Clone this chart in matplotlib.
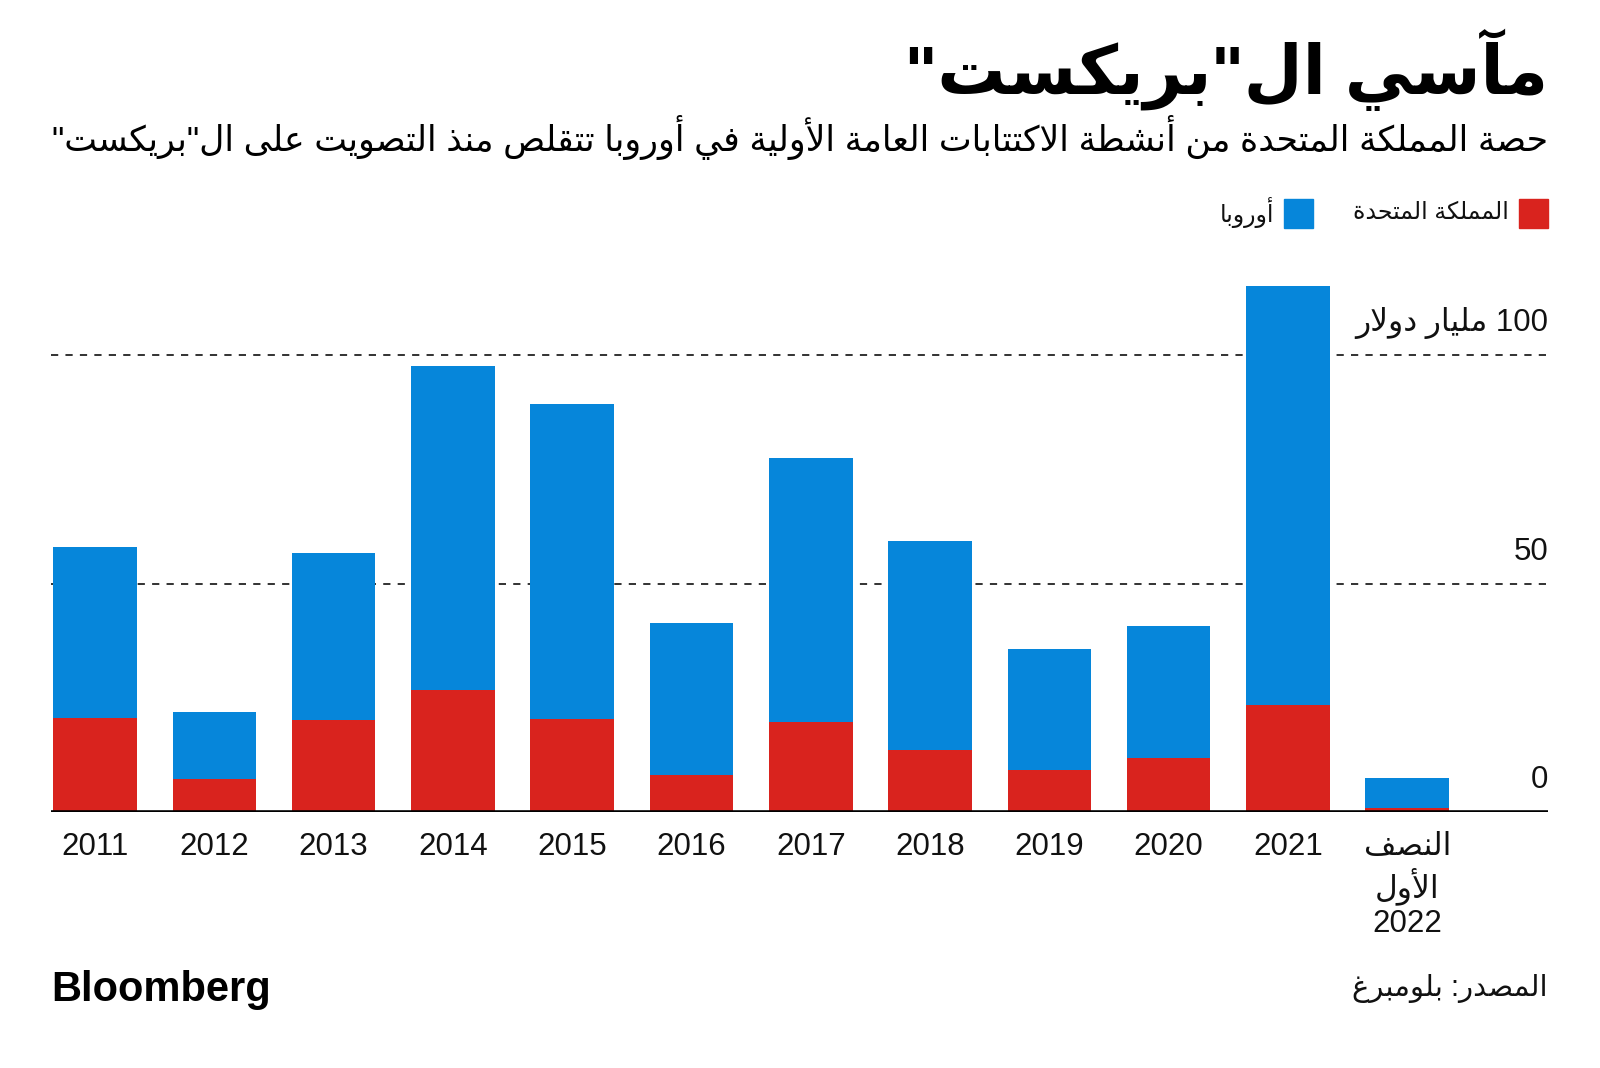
import re

import matplotlib
matplotlib.use('Agg')
import matplotlib.pyplot as plt
from matplotlib.patches import Rectangle

# data (billion dollars, IPO proceeds)
years = ['2011', '2012', '2013', '2014', '2015', '2016', '2017', '2018',
         '2019', '2020', '2021', 'النصف\nالأول\n2022']
europe = [57.9, 21.9, 56.6, 97.5, 89.3, 41.4, 77.4, 59.3, 35.6, 40.6, 115.2, 7.4]
uk = [20.6, 7.2, 20.1, 26.8, 20.4, 8.1, 19.7, 13.6, 9.2, 11.8, 23.5, 0.9]
yticks = [0, 50, 100]
ytick_labels = ['0', '50', '100 مليار دولار']

title = 'مآسي ال"بريكست"'
subtitle = 'حصة المملكة المتحدة من أنشطة الاكتتابات العامة الأولية في أوروبا تتقلص منذ التصويت على ال"بريكست"'
label_uk = 'المملكة المتحدة'
label_eu = 'أوروبا'
source = 'المصدر: بلومبرغ'

RED = '#d9231e'
BLUE = '#0686da'
FONT = ['Liberation Sans', 'DejaVu Sans']

# --- minimal arabic shaping: presentation forms + right-to-left order ---
AR_FORMS = {
    'ء': (0xFE80, 1), 'آ': (0xFE81, 2), 'أ': (0xFE83, 2), 'ؤ': (0xFE85, 2),
    'إ': (0xFE87, 2), 'ئ': (0xFE89, 4), 'ا': (0xFE8D, 2), 'ب': (0xFE8F, 4),
    'ة': (0xFE93, 2), 'ت': (0xFE95, 4), 'ث': (0xFE99, 4), 'ج': (0xFE9D, 4),
    'ح': (0xFEA1, 4), 'خ': (0xFEA5, 4), 'د': (0xFEA9, 2), 'ذ': (0xFEAB, 2),
    'ر': (0xFEAD, 2), 'ز': (0xFEAF, 2), 'س': (0xFEB1, 4), 'ش': (0xFEB5, 4),
    'ص': (0xFEB9, 4), 'ض': (0xFEBD, 4), 'ط': (0xFEC1, 4), 'ظ': (0xFEC5, 4),
    'ع': (0xFEC9, 4), 'غ': (0xFECD, 4), 'ف': (0xFED1, 4), 'ق': (0xFED5, 4),
    'ك': (0xFED9, 4), 'ل': (0xFEDD, 4), 'م': (0xFEE1, 4), 'ن': (0xFEE5, 4),
    'ه': (0xFEE9, 4), 'و': (0xFEED, 2), 'ى': (0xFEEF, 2), 'ي': (0xFEF1, 4),
}
LAM_ALEF = {'آ': 0xFEF5, 'أ': 0xFEF7, 'إ': 0xFEF9, 'ا': 0xFEFB}


def joins_next(c):
    return c in AR_FORMS and AR_FORMS[c][1] == 4


def shape(text):
    out = []
    i = 0
    n = len(text)
    while i < n:
        c = text[i]
        if c not in AR_FORMS:
            out.append(c)
            i += 1
            continue
        from_prev = i > 0 and joins_next(text[i - 1])
        if c == 'ل' and i + 1 < n and text[i + 1] in LAM_ALEF:
            out.append(chr(LAM_ALEF[text[i + 1]] + int(from_prev)))
            i += 2
            continue
        base, count = AR_FORMS[c]
        to_next = count == 4 and i + 1 < n and text[i + 1] in AR_FORMS
        if from_prev and to_next:
            off = 3
        elif from_prev:
            off = 1 if count > 1 else 0
        elif to_next:
            off = 2
        else:
            off = 0
        out.append(chr(base + off))
        i += 1
    return ''.join(out)


def ar(text):
    lines = []
    for line in text.split('\n'):
        vis = shape(line)[::-1]
        lines.append(re.sub(r'[0-9]+', lambda m: m.group(0)[::-1], vis))
    return '\n'.join(lines)


plt.rcParams['font.family'] = FONT

fig = plt.figure(figsize=(16, 10.68), dpi=100)
ax = fig.add_axes([0.0319, 0.2397, 0.9356, 0.5263])

x = range(len(years))
ax.bar(x, europe, width=0.70, color=BLUE, zorder=3)
ax.bar(x, uk, width=0.70, color=RED, zorder=4)

for v in yticks[1:]:
    ax.axhline(v, color='#222222', lw=1.3, ls=(0, (4, 4)), zorder=1)
ax.axhline(0, color='black', lw=2.6, zorder=5)

ax.set_xlim(-0.369, 12.18)
ax.set_ylim(0, 123)
ax.axis('off')

for v, lab in zip(yticks, ytick_labels):
    ax.text(1.0, v + 6.9, ar(lab), transform=ax.get_yaxis_transform(),
            ha='right', va='center', fontsize=22.5, color='#111111')

for xi, lab in zip(x, years):
    ax.text(xi, -4.4, ar(lab), ha='center', va='top', fontsize=22.5,
            color='#111111', linespacing=1.18)

# title block
fig.text(0.9675, 0.935, ar(title), ha='right', va='center', fontsize=49,
         fontweight='bold', color='black')
fig.text(0.9675, 0.871, ar(subtitle), ha='right', va='center', fontsize=25,
         color='black')

# legend
sq = 29 / 1600
sqh = 29 / 1068
for x0, col, lab in [(1519, RED, label_uk), (1284, BLUE, label_eu)]:
    fig.patches.append(Rectangle((x0 / 1600, 0.800 - sqh / 2), sq, sqh,
                                 transform=fig.transFigure, color=col))
    fig.text((x0 - 10) / 1600, 0.801, ar(lab), ha='right', va='center',
             fontsize=17, color='#111111')

# footer
fig.text(0.0319, 0.073, 'Bloomberg', ha='left', va='center', fontsize=30,
         fontweight='bold', family='Liberation Sans', color='black')
fig.text(0.9675, 0.074, ar(source), ha='right', va='center', fontsize=21,
         color='#111111')

fig.savefig('out.png', dpi=100, facecolor='white')
